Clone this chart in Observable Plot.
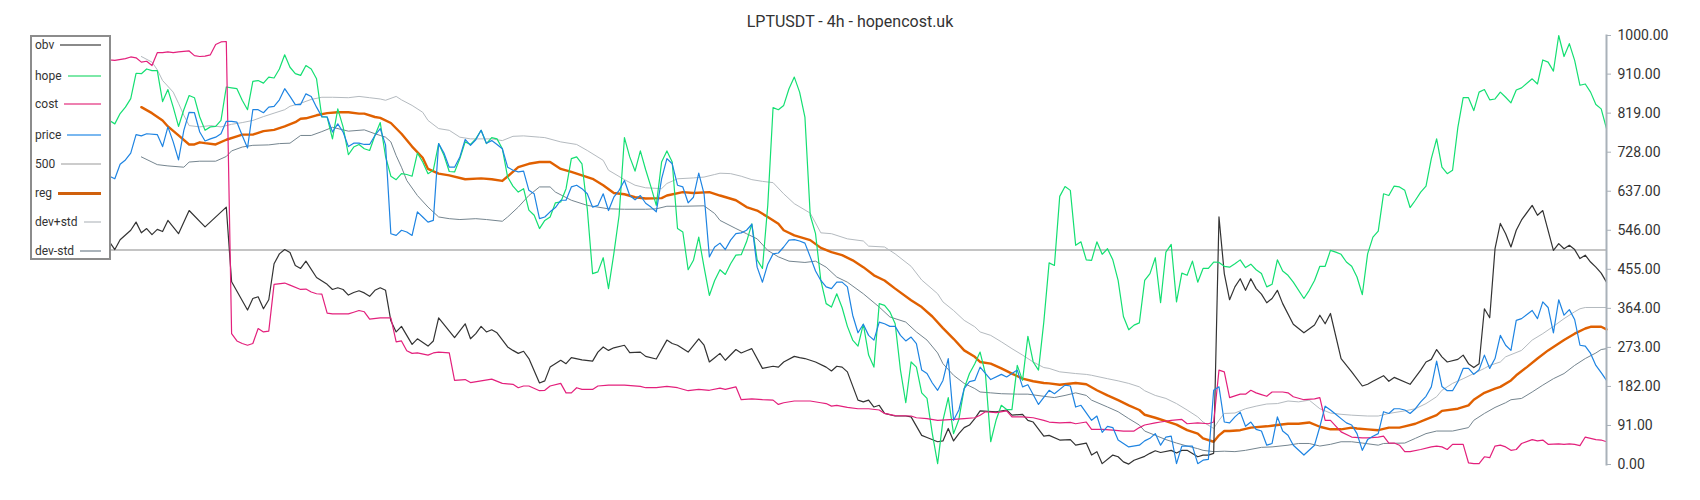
<!DOCTYPE html>
<html>
<head>
<meta charset="utf-8">
<script src="https://cdn.jsdelivr.net/npm/d3@7"></script>
<script src="https://cdn.jsdelivr.net/npm/@observablehq/plot@0.6"></script>
<style>
  html, body { margin: 0; padding: 0; background: #fff; }
  #wrap { position: relative; width: 1700px; height: 500px; font-family: Roboto, "Noto Sans", sans-serif; }
  #title { position: absolute; left: 0; top: 12px; width: 1700px; text-align: center; font-size: 16px; line-height: 20px; color: #333; }
  #chart { position: absolute; left: 0; top: 0; }
  #legend { position: absolute; left: 30px; top: 35px; width: 81px; height: 225px; box-sizing: border-box; border: 2px solid #8c8c8c; background: #fff; z-index: 2; }
  .row { position: absolute; left: 3px; width: 66px; height: 14px; display: flex; align-items: center; font-size: 12px; line-height: 14px; color: #333; }
  .row .sw { flex: 1; margin-left: 6px; height: 0; }
</style>
</head>
<body>
<div id="wrap">
  <div id="chart"></div>
  <div id="title">LPTUSDT - 4h - hopencost.uk</div>
  <div id="legend"></div>
</div>
<script>
// ---- data: [bar index, value] (values normalised 0..1000) ----
const barCount = 296;
const yTicks = [0, 91, 182, 273, 364, 455, 546, 637, 728, 819, 910, 1000];
const level500 = 500;

const obv = [[13,519],[14,501],[15,524],[17,546],[18,565],[19,540],[20,550],[21,536],[22,548],[23,543],[24,569],[26,538],[28,592],[31,554],[35,600],[36,426],[39,360],[40,387],[41,391],[42,363],[43,384],[44,468],[45,491],[46,501],[47,494],[48,464],[49,457],[50,474],[52,436],[54,420],[55,408],[56,412],[57,408],[58,395],[59,401],[60,405],[61,400],[62,392],[63,406],[64,412],[65,406],[66,335],[67,309],[68,322],[70,280],[71,293],[73,276],[74,288],[75,342],[78,296],[80,328],[81,293],[82,305],[83,322],[84,309],[85,314],[86,307],[88,274],[89,266],[90,259],[91,264],[92,247],[94,190],[95,195],[96,227],[98,243],[99,235],[100,249],[102,244],[104,241],[105,262],[106,274],[107,266],[108,272],[110,278],[111,261],[113,262],[114,252],[116,246],[118,290],[119,282],[120,278],[122,262],[124,293],[125,278],[126,239],[127,249],[128,259],[129,243],[131,268],[132,260],[133,265],[134,270],[136,224],[138,229],[139,227],[140,239],[142,252],[143,249],[144,247],[146,239],[148,227],[149,218],[150,229],[151,227],[152,216],[154,150],[155,146],[156,150],[157,134],[158,138],[159,119],[161,113],[163,113],[164,111],[166,68],[167,63],[169,53],[170,55],[171,84],[172,55],[173,72],[174,86],[175,92],[176,107],[177,125],[180,123],[182,127],[183,115],[185,117],[186,103],[187,99],[189,66],[190,68],[192,57],[194,58],[195,45],[197,50],[198,22],[199,30],[200,2],[202,22],[203,18],[204,6],[205,1],[206,10],[208,19],[209,26],[210,32],[211,28],[213,33],[214,27],[215,33],[216,33],[218,18],[219,22],[220,22],[221,26],[222,577],[223,445],[224,384],[225,414],[226,433],[227,406],[228,433],[229,410],[230,397],[231,377],[232,387],[233,406],[234,375],[236,327],[238,307],[240,325],[241,348],[242,328],[243,352],[245,247],[247,216],[249,183],[250,187],[251,194],[253,207],[254,194],[255,203],[258,187],[260,220],[261,239],[262,245],[263,268],[264,251],[265,239],[267,245],[268,255],[269,235],[270,226],[271,235],[272,363],[273,342],[274,503],[275,562],[276,538],[277,507],[278,546],[279,570],[281,604],[282,581],[283,592],[285,499],[286,515],[287,503],[288,511],[289,501],[290,480],[291,488],[292,472],[293,460],[294,446],[295,425]];

const hope = [[13,802],[14,794],[15,818],[16,833],[17,853],[18,912],[19,911],[20,922],[21,918],[22,918],[23,846],[24,874],[25,833],[26,788],[27,827],[28,860],[29,855],[30,810],[31,779],[32,787],[33,788],[34,802],[35,880],[36,878],[37,876],[38,849],[39,827],[40,893],[41,895],[42,889],[43,903],[44,901],[45,922],[46,955],[47,926],[48,911],[49,907],[50,930],[51,922],[52,899],[53,810],[54,810],[55,759],[56,829],[57,787],[58,722],[59,740],[60,746],[61,736],[62,732],[63,767],[64,797],[65,718],[66,672],[67,664],[68,678],[69,676],[70,672],[71,726],[72,705],[73,678],[74,686],[75,748],[76,721],[77,683],[78,682],[79,713],[80,752],[81,746],[82,759],[83,779],[84,748],[85,762],[86,759],[87,736],[88,670],[89,649],[90,635],[91,643],[92,593],[93,581],[94,550],[95,569],[96,577],[97,610],[98,612],[99,643],[100,713],[101,717],[102,701],[103,596],[104,445],[105,449],[106,482],[107,410],[108,491],[109,581],[110,762],[111,717],[112,684],[113,731],[114,687],[115,647],[116,604],[117,705],[118,731],[119,705],[120,550],[121,542],[122,454],[123,476],[124,530],[125,460],[126,394],[127,429],[128,454],[129,443],[130,468],[131,488],[132,489],[133,519],[134,561],[135,477],[136,457],[137,604],[138,832],[139,827],[140,837],[141,876],[142,903],[143,868],[144,810],[145,581],[146,538],[147,429],[148,375],[149,367],[150,398],[151,366],[152,322],[153,290],[154,276],[155,327],[156,255],[157,227],[158,375],[159,371],[160,356],[161,328],[162,220],[163,144],[164,239],[165,227],[166,167],[167,154],[168,72],[169,2],[170,103],[171,156],[172,72],[173,105],[174,177],[175,212],[176,235],[177,262],[178,212],[179,53],[180,103],[181,138],[182,128],[183,128],[184,231],[185,196],[186,299],[187,239],[188,220],[189,332],[190,470],[191,464],[192,625],[193,648],[194,639],[195,511],[196,519],[197,477],[198,476],[199,519],[200,490],[201,503],[202,477],[203,429],[204,345],[205,314],[206,325],[207,330],[208,429],[209,445],[210,482],[211,377],[212,495],[213,513],[214,379],[215,446],[216,441],[217,474],[218,425],[219,457],[220,457],[221,472],[222,471],[223,462],[224,460],[225,468],[226,477],[227,459],[228,467],[229,454],[230,445],[231,414],[232,420],[233,477],[234,451],[235,441],[236,425],[238,387],[239,406],[240,429],[241,462],[242,462],[243,499],[244,495],[245,490],[246,472],[247,462],[248,437],[249,396],[250,491],[251,530],[252,544],[253,631],[254,627],[255,649],[256,647],[257,639],[258,599],[259,616],[260,635],[261,649],[262,713],[263,759],[264,693],[265,678],[266,686],[267,786],[268,855],[269,855],[270,825],[271,868],[272,874],[273,850],[274,852],[275,868],[276,856],[277,843],[278,873],[279,878],[281,899],[282,887],[283,943],[284,938],[285,917],[286,1000],[287,951],[288,981],[289,942],[290,884],[291,887],[292,868],[293,839],[294,829],[295,783]];

const cost = [[1,985],[2,1000],[4,990],[8,955],[13,943],[14,942],[16,946],[17,950],[18,948],[19,938],[20,940],[21,930],[22,960],[23,960],[24,962],[25,960],[26,962],[28,964],[29,953],[30,951],[31,952],[32,955],[33,979],[34,985],[35,986],[36,305],[37,288],[38,282],[39,278],[40,282],[41,317],[42,309],[43,311],[44,420],[46,423],[47,418],[49,408],[50,409],[51,402],[52,398],[53,397],[54,353],[55,351],[58,351],[59,355],[60,359],[61,356],[62,339],[64,342],[66,342],[67,286],[68,288],[69,265],[70,259],[71,260],[73,255],[74,260],[75,262],[77,260],[78,196],[80,198],[81,191],[83,195],[85,199],[87,189],[89,187],[90,179],[91,183],[92,183],[94,172],[95,173],[96,183],[98,189],[99,167],[100,167],[101,179],[102,175],[104,175],[105,183],[107,185],[110,185],[113,182],[114,179],[116,179],[118,182],[120,179],[122,172],[124,175],[126,173],[128,178],[129,175],[131,181],[132,151],[134,153],[136,151],[138,150],[139,140],[140,144],[142,148],[145,148],[147,144],[148,142],[149,136],[150,138],[152,133],[154,130],[156,130],[158,127],[159,119],[161,114],[164,113],[165,109],[167,107],[169,103],[172,105],[174,107],[176,109],[177,115],[178,123],[180,121],[182,125],[183,111],[185,111],[187,109],[189,103],[190,99],[192,97],[194,98],[195,95],[197,99],[198,82],[200,82],[202,80],[204,78],[206,78],[207,86],[208,92],[210,97],[211,99],[213,103],[215,105],[216,95],[218,97],[220,95],[221,99],[222,220],[223,216],[224,156],[226,164],[227,164],[228,173],[229,167],[230,163],[231,159],[232,169],[234,169],[235,167],[236,158],[238,151],[240,153],[241,156],[242,103],[243,103],[245,76],[247,64],[249,62],[250,62],[252,64],[253,66],[254,50],[255,50],[256,45],[257,30],[258,30],[260,35],[262,41],[263,43],[264,41],[265,35],[266,47],[268,47],[269,4],[270,2],[271,2],[272,18],[273,16],[274,43],[275,45],[276,41],[277,33],[278,35],[279,49],[281,58],[282,55],[283,57],[284,47],[286,48],[287,47],[288,48],[289,47],[290,44],[291,64],[292,61],[293,58],[294,57],[295,53]];

const price = [[13,672],[14,666],[15,700],[16,710],[17,726],[18,769],[19,766],[20,771],[22,769],[23,741],[24,787],[25,752],[26,710],[27,779],[28,821],[29,820],[30,775],[31,754],[32,759],[33,763],[34,771],[35,800],[36,800],[37,798],[38,767],[39,738],[40,827],[41,827],[42,820],[43,833],[44,835],[45,850],[46,876],[47,858],[48,839],[49,839],[50,864],[51,858],[52,833],[53,811],[54,810],[55,775],[56,794],[57,775],[58,741],[59,749],[60,749],[61,746],[62,746],[63,767],[64,783],[65,745],[66,538],[67,534],[68,546],[69,542],[70,534],[71,589],[72,577],[73,565],[74,569],[75,748],[76,726],[77,693],[78,693],[79,717],[80,758],[81,744],[82,757],[83,779],[84,749],[85,755],[86,746],[87,736],[88,693],[89,686],[90,682],[91,684],[92,639],[93,631],[94,573],[95,577],[96,589],[97,599],[98,616],[99,616],[100,647],[101,651],[102,643],[103,631],[104,600],[105,604],[106,631],[107,592],[108,623],[109,639],[110,662],[111,627],[112,617],[113,627],[114,609],[115,600],[116,589],[117,666],[118,713],[119,701],[120,651],[121,647],[122,610],[123,623],[124,679],[125,631],[126,484],[127,507],[128,516],[129,501],[130,523],[131,538],[132,540],[133,546],[134,560],[135,460],[136,425],[137,467],[138,491],[139,493],[140,507],[141,523],[142,524],[143,521],[144,516],[145,484],[146,451],[147,429],[148,414],[149,410],[150,425],[151,425],[152,414],[153,348],[154,307],[155,327],[156,301],[157,290],[158,332],[159,328],[160,322],[161,322],[162,301],[163,288],[164,297],[165,282],[166,220],[167,212],[168,190],[169,173],[170,196],[171,247],[172,103],[173,127],[174,177],[175,193],[176,196],[177,227],[179,198],[181,210],[182,204],[184,220],[185,181],[186,186],[188,140],[190,173],[191,165],[193,185],[194,183],[195,134],[196,138],[198,103],[199,113],[200,75],[201,89],[202,86],[203,57],[205,41],[207,45],[208,55],[209,61],[210,72],[211,45],[212,64],[213,66],[214,2],[215,43],[217,43],[218,2],[219,10],[220,12],[221,173],[222,181],[223,99],[224,97],[225,111],[226,122],[227,89],[228,99],[229,82],[230,78],[231,45],[232,49],[233,111],[234,78],[235,68],[236,45],[238,22],[240,45],[241,88],[242,136],[243,127],[244,117],[245,107],[246,97],[247,92],[248,72],[249,33],[250,58],[251,66],[252,72],[253,123],[254,119],[255,130],[256,130],[257,127],[258,119],[259,130],[260,146],[261,159],[262,181],[263,241],[264,182],[265,172],[266,172],[267,193],[268,224],[269,224],[270,210],[271,221],[272,255],[273,224],[274,247],[275,301],[276,278],[277,266],[278,336],[279,340],[281,359],[282,340],[283,379],[284,366],[285,307],[286,384],[287,348],[288,361],[289,338],[290,278],[291,276],[292,259],[293,231],[294,214],[295,196]];

const reg = [[19,833],[21,819],[23,802],[24,788],[26,767],[28,746],[29,746],[30,751],[31,749],[33,746],[35,757],[37,765],[38,769],[40,769],[42,777],[44,780],[46,788],[48,798],[49,806],[50,807],[52,814],[54,819],[56,821],[58,821],[60,818],[61,818],[63,810],[64,808],[66,796],[68,771],[70,741],[72,715],[73,689],[75,678],[77,674],[80,665],[83,667],[85,665],[87,661],[90,693],[92,701],[94,705],[96,705],[98,689],[100,682],[102,674],[104,666],[106,651],[108,633],[110,630],[112,623],[114,620],[117,621],[118,627],[121,635],[123,633],[126,635],[128,627],[131,616],[133,600],[135,592],[137,577],[139,561],[140,546],[142,534],[145,523],[147,505],[149,495],[151,488],[153,476],[155,460],[157,441],[159,429],[161,410],[164,383],[166,367],[168,345],[170,318],[172,293],[174,266],[176,251],[177,239],[179,235],[181,224],[183,212],[185,200],[187,194],[189,190],[190,189],[192,186],[195,190],[197,187],[199,173],[201,161],[203,150],[205,138],[207,127],[208,116],[210,109],[212,101],[214,93],[216,80],[218,72],[219,61],[221,53],[222,68],[223,78],[224,78],[226,80],[228,86],[231,89],[233,92],[235,95],[237,95],[239,98],[241,88],[243,82],[245,82],[247,86],[248,84],[250,82],[252,80],[254,86],[256,86],[257,89],[259,95],[261,105],[263,115],[264,125],[267,130],[269,138],[270,151],[272,167],[274,177],[275,181],[277,196],[278,208],[280,227],[282,247],[284,266],[285,274],[287,290],[289,305],[291,317],[292,321],[294,321],[295,315]];

const devPlus = [[19,951],[21,938],[22,920],[23,895],[25,868],[26,842],[27,814],[28,790],[30,787],[32,790],[34,787],[36,793],[38,797],[40,802],[42,811],[44,819],[46,827],[47,835],[49,842],[51,851],[53,856],[55,856],[58,855],[60,858],[62,855],[64,852],[65,849],[67,858],[68,850],[70,837],[72,821],[73,802],[75,783],[77,779],[79,763],[81,759],[85,759],[87,755],[89,765],[91,766],[94,763],[95,762],[98,752],[101,746],[103,732],[106,709],[107,686],[110,664],[112,651],[114,645],[117,643],[118,655],[120,666],[123,668],[125,670],[127,676],[128,679],[130,678],[132,672],[134,664],[136,660],[138,657],[140,631],[142,608],[145,586],[147,540],[149,538],[152,526],[155,521],[156,509],[159,507],[161,491],[164,462],[166,430],[169,398],[170,379],[172,359],[174,336],[176,321],[177,309],[179,301],[181,286],[183,270],[185,255],[187,239],[189,226],[190,224],[192,216],[195,212],[197,210],[198,208],[201,200],[203,195],[205,189],[207,181],[208,172],[210,161],[212,154],[214,142],[216,127],[218,111],[219,99],[221,84],[222,103],[223,119],[225,120],[227,130],[229,136],[231,141],[233,142],[235,148],[237,146],[239,150],[241,130],[243,120],[245,117],[247,115],[250,113],[252,113],[254,119],[257,125],[259,130],[261,142],[263,158],[264,173],[266,189],[268,200],[270,212],[272,224],[273,231],[275,239],[276,251],[277,256],[279,266],[281,290],[283,305],[285,322],[287,340],[289,356],[290,363],[291,366],[295,366]];

const devMinus = [[19,717],[21,705],[22,699],[24,696],[27,693],[28,705],[30,707],[33,707],[35,718],[36,731],[38,740],[40,744],[43,745],[45,748],[47,749],[49,767],[51,767],[53,776],[55,786],[58,777],[61,780],[63,771],[64,767],[65,763],[66,752],[67,720],[68,693],[69,662],[71,627],[73,600],[75,577],[77,573],[79,571],[82,573],[84,571],[87,567],[88,577],[90,600],[92,627],[94,647],[96,647],[97,635],[100,616],[103,604],[107,596],[110,595],[114,595],[116,596],[118,602],[121,602],[125,603],[127,585],[128,569],[131,550],[133,538],[135,526],[137,499],[139,484],[141,474],[144,471],[146,474],[148,460],[150,437],[152,425],[155,398],[158,367],[160,344],[163,332],[165,309],[167,290],[169,260],[170,235],[172,208],[174,189],[176,177],[177,169],[179,167],[181,165],[184,164],[186,164],[189,159],[191,156],[193,161],[195,167],[197,161],[198,150],[201,134],[203,123],[205,107],[207,92],[208,78],[210,68],[212,58],[214,50],[216,43],[218,37],[219,33],[221,30],[223,31],[225,30],[227,33],[230,40],[232,41],[235,45],[237,49],[239,49],[241,43],[243,47],[245,53],[247,53],[249,50],[252,45],[253,49],[257,50],[259,61],[261,72],[263,78],[266,78],[269,86],[270,103],[272,119],[274,133],[276,144],[277,151],[279,154],[281,169],[283,185],[285,200],[287,212],[289,231],[291,247],[293,260],[294,268],[295,270]];

// ---- styling ----
const series = [
  {name: "dev+std", data: devPlus, color: "#b4babf", width: 1, sw: "#d3d6d9", swW: 2},
  {name: "dev-std", data: devMinus, color: "#75858f", width: 1, sw: "#aab3ba", swW: 2},
  {name: "reg", data: reg, color: "#e06000", width: 2.4, sw: "#d0600c", swW: 3},
  {name: "obv", data: obv, color: "#333333", width: 1.2, sw: "#8a8a8a", swW: 2},
  {name: "hope", data: hope, color: "#14df72", width: 1.2, sw: "#7de8a8", swW: 2},
  {name: "cost", data: cost, color: "#e3207c", width: 1.2, sw: "#ee80b0", swW: 2},
  {name: "price", data: price, color: "#1e84e2", width: 1.2, sw: "#7ab8f0", swW: 2}
];
const legendOrder = ["obv", "hope", "cost", "price", "500", "reg", "dev+std", "dev-std"];
const legendY = [45, 76, 104, 135, 164, 193, 222, 251];

const marks = [
  Plot.ruleY([level500], {stroke: "#c4c4c4", strokeWidth: 2}),
  ...series.map(s => Plot.line(s.data, {x: d => d[0], y: d => d[1], stroke: s.color, strokeWidth: s.width, strokeLinejoin: "round"})),
  Plot.frame({anchor: "right", stroke: "#a9b1b9", strokeWidth: 2}),
  Plot.axisY(yTicks, {anchor: "right", tickSize: 4, tickPadding: 7, tickFormat: d3.format(".2f"), stroke: "#a9b1b9", fill: "#333", fontSize: 14, label: null})
];

const chart = Plot.plot({
  width: 1700, height: 500,
  marginLeft: 40, marginRight: 94, marginTop: 35, marginBottom: 36,
  x: {domain: [0, barCount - 1], axis: null},
  y: {domain: [0, 1000], axis: null},
  style: {fontFamily: "Roboto, 'Noto Sans', sans-serif", fontSize: "14px", color: "#333", background: "transparent"},
  marks
});
document.getElementById("chart").appendChild(chart);

// legend
const lg = document.getElementById("legend");
legendOrder.forEach((name, i) => {
  const s = series.find(d => d.name === name) || {sw: "#cccccc", swW: 2};
  const row = document.createElement("div");
  row.className = "row";
  row.style.top = (legendY[i] - 37 - 7) + "px";
  const t = document.createElement("span");
  t.textContent = name;
  const sw = document.createElement("span");
  sw.className = "sw";
  sw.style.borderTop = s.swW + "px solid " + s.sw;
  row.appendChild(t); row.appendChild(sw);
  lg.appendChild(row);
});
</script>
</body>
</html>
